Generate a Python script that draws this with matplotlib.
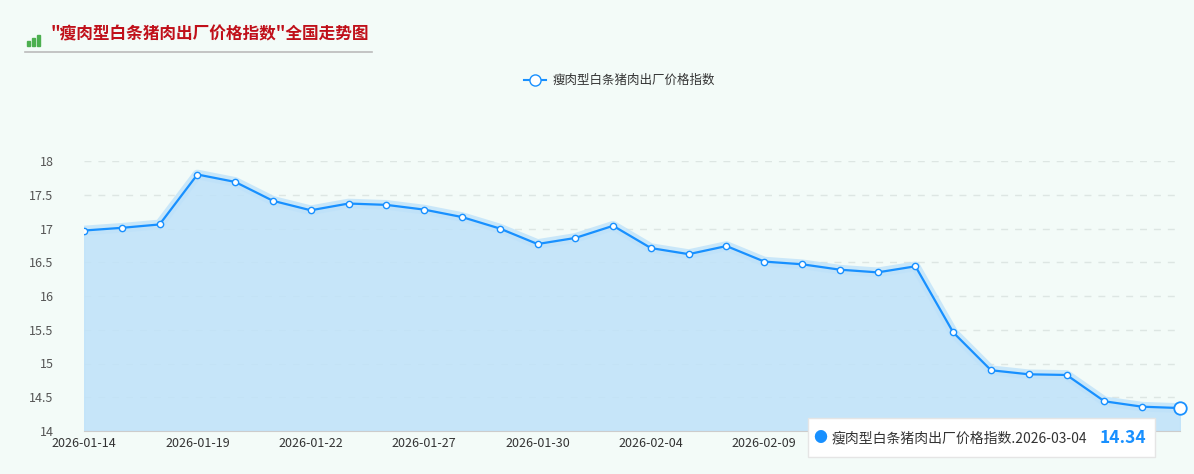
import matplotlib
matplotlib.use("Agg")
import matplotlib.pyplot as plt
import numpy as np

plt.rcParams['font.family'] = ['Noto Sans CJK SC', 'DejaVu Sans']

dates = ["2026-01-14","2026-01-15","2026-01-16","2026-01-19","2026-01-20","2026-01-21",
         "2026-01-22","2026-01-23","2026-01-26","2026-01-27","2026-01-28","2026-01-29",
         "2026-01-30","2026-02-02","2026-02-03","2026-02-04","2026-02-05","2026-02-06",
         "2026-02-09","2026-02-10","2026-02-11","2026-02-12","2026-02-13","2026-02-24",
         "2026-02-25","2026-02-26","2026-02-27","2026-03-02","2026-03-03","2026-03-04"]
values = [16.97,17.01,17.06,17.80,17.69,17.41,17.27,17.37,17.35,17.28,17.17,17.00,
          16.77,16.86,17.04,16.71,16.62,16.74,16.51,16.47,16.39,16.35,16.44,15.46,
          14.90,14.84,14.83,14.44,14.36,14.34]
yticks = [14,14.5,15,15.5,16,16.5,17,17.5,18]
series_name = "瘦肉型白条猪肉出厂价格指数"

fig = plt.figure(figsize=(11.94,4.74), dpi=100)
fig.patch.set_facecolor('#f3fbf8')
ax = fig.add_axes([84/1194, 1-431/474, (1180-84)/1194, (431-161)/474])
ax.set_facecolor('none')
x = np.arange(len(values))
ax.fill_between(x, values, 14, color='#bfe2fa', alpha=0.85, zorder=1)
ax.plot(x, values, color='#bfe2fa', lw=7, alpha=0.8, zorder=2)
ax.plot(x, values, color='#1890ff', lw=1.6, zorder=3, marker='o', ms=4.5,
        mfc='white', mec='#1890ff', mew=1)
ax.plot(x[-1], values[-1], 'o', ms=9, mfc='white', mec='#1890ff', mew=1.3, zorder=4, clip_on=False)
ax.set_xlim(0, len(values)-1)
ax.set_ylim(14, 18)
ax.set_yticks(yticks)
ax.set_yticklabels([f"{v:g}" for v in yticks], fontsize=9, color='#555')
tick_idx = list(range(0, len(values), 3))
ax.set_xticks(tick_idx)
ax.set_xticklabels([dates[i] for i in tick_idx], fontsize=9, color='#333')
ax.tick_params(length=0, pad=4)
ax.tick_params(axis='y', pad=22)
for s in ['top','right','left']:
    ax.spines[s].set_visible(False)
ax.spines['bottom'].set_color('#ccc')
ax.grid(axis='y', ls=(0,(5,5)), color='#dde6e3', lw=1)
ax.set_axisbelow(True)

fig.text(50/1194, 1-34/474, '"瘦肉型白条猪肉出厂价格指数"全国走势图', fontsize=12,
         fontweight='bold', color='#c0101a', va='center')
fig.add_artist(plt.Line2D([25/1194, 372/1194], [1-52/474]*2, color='#bbb', lw=1.2))
for i, h in enumerate([5, 8, 11]):
    fig.add_artist(plt.Rectangle(((27+i*5)/1194, 1-46/474), 3/1194, h/474, color='#4caf50'))
# legend
fig.add_artist(plt.Line2D([524/1194, 546/1194], [1-80/474]*2, color='#1890ff', lw=1.5))
fig.add_artist(plt.Line2D([535/1194], [1-80/474], marker='o', ms=8, mfc='white', mec='#1890ff'))
fig.text(553/1194, 1-80/474, series_name, fontsize=9, color='#333', va='center')
# tooltip
tip = plt.Rectangle((808/1194, 1-457/474), 347/1194, 39/474, fc='white', ec='#e5e5e5',
                    lw=1, zorder=10, transform=fig.transFigure)
fig.add_artist(tip)
fig.text(813/1194, 1-438/474, "●", fontsize=10, color='#1890ff', va='center', zorder=11)
fig.text(832/1194, 1-438/474, f"{series_name}.{dates[-1]}", fontsize=10, color='#333',
         va='center', zorder=11)
fig.text(1100/1194, 1-438/474, f"{values[-1]:.2f}", fontsize=12.5, fontweight='bold',
         color='#1890ff', va='center', zorder=11)
fig.savefig("out.png", dpi=100, facecolor=fig.get_facecolor())
